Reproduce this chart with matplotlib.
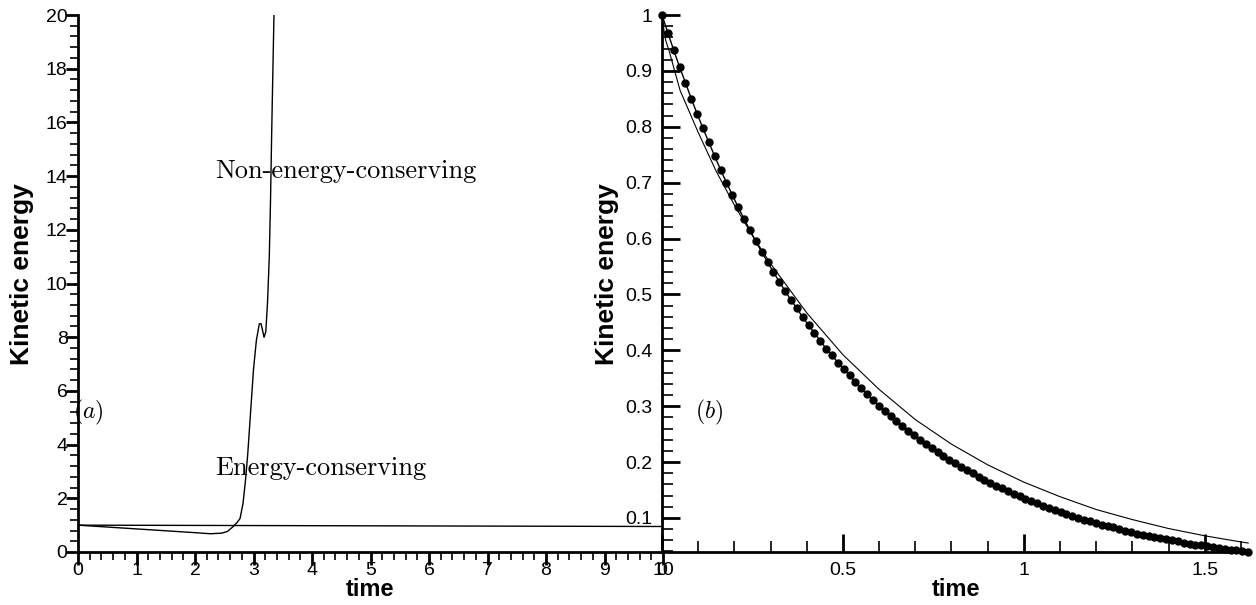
import numpy as np
import matplotlib
matplotlib.use("Agg")
from matplotlib import pyplot as plt
from matplotlib.ticker import MultipleLocator, FormatStrFormatter

plt.rcParams['font.family'] = ['Liberation Sans', 'DejaVu Sans']
plt.rcParams['mathtext.fontset'] = 'cm'

# (a) kinetic energy over long time
t_cons = [0, 2, 4, 6, 8, 10]
ke_cons = [1.0, 0.99, 0.98, 0.97, 0.96, 0.95]

t_noncons = [0, 0.5, 1.0, 1.5, 2.0, 2.26, 2.45, 2.55, 2.65, 2.72, 2.77, 2.82, 2.86,
             2.9, 2.95, 3.0, 3.05, 3.1, 3.13, 3.18, 3.21, 3.24, 3.27, 3.29, 3.31, 3.33, 3.35]
ke_noncons = [1.0, 0.93, 0.86, 0.79, 0.72, 0.68, 0.70, 0.76, 0.94, 1.1, 1.25, 1.8, 2.6,
              3.6, 5.2, 6.8, 7.9, 8.5, 8.5, 8.0, 8.2, 9.3, 11.0, 13.0, 15.5, 17.8, 20.0]

# (b) short-time decay
t_dots = np.linspace(0, 1.62, 101)
ke_dots = [1.000, 0.968, 0.937, 0.907, 0.879, 0.850, 0.823, 0.797, 0.772, 0.747,
           0.723, 0.700, 0.678, 0.656, 0.635, 0.615, 0.595, 0.576, 0.558, 0.540,
           0.523, 0.506, 0.490, 0.475, 0.459, 0.445, 0.431, 0.417, 0.403, 0.391,
           0.378, 0.366, 0.355, 0.343, 0.332, 0.322, 0.311, 0.301, 0.292, 0.283,
           0.274, 0.265, 0.256, 0.248, 0.240, 0.233, 0.225, 0.218, 0.211, 0.204,
           0.198, 0.192, 0.186, 0.180, 0.174, 0.168, 0.163, 0.158, 0.153, 0.148,
           0.143, 0.139, 0.134, 0.130, 0.126, 0.122, 0.118, 0.114, 0.110, 0.107,
           0.104, 0.100, 0.097, 0.094, 0.091, 0.088, 0.085, 0.083, 0.080, 0.077,
           0.075, 0.072, 0.070, 0.068, 0.066, 0.064, 0.062, 0.060, 0.058, 0.056,
           0.054, 0.052, 0.051, 0.049, 0.048, 0.046, 0.045, 0.043, 0.042, 0.040,
           0.039]

t_line = [0, 0.005, 0.01, 0.02, 0.05, 0.1, 0.15, 0.2, 0.25, 0.3, 0.4, 0.5, 0.6,
          0.7, 0.8, 0.9, 1.0, 1.1, 1.2, 1.3, 1.4, 1.5, 1.6, 1.62]
ke_line = [1.0, 0.975, 0.955, 0.935, 0.865, 0.79, 0.72, 0.66, 0.605, 0.555, 0.467,
           0.392, 0.33, 0.276, 0.232, 0.195, 0.164, 0.138, 0.115, 0.097, 0.081,
           0.068, 0.057, 0.055]

W, H = 1256, 605
fig = plt.figure(figsize=(W / 100, H / 100), dpi=100)
ax1 = fig.add_axes([78 / W, 53 / H, 585 / W, 537 / H])
ax2 = fig.add_axes([662 / W, 53 / H, 588 / W, 537 / H])
ax2.set_facecolor('none')


def style_axes(ax, direction, pad):
    for s in ['top', 'right']:
        ax.spines[s].set_visible(False)
    for s in ['left', 'bottom']:
        ax.spines[s].set_linewidth(2)
    ax.tick_params(which='major', direction=direction, length=9, width=2,
                   labelsize=14, pad=pad)
    ax.tick_params(which='minor', direction=direction, length=6, width=1.2)


# Panel (a)
ax1.plot(t_cons, ke_cons, color='black', lw=1)
ax1.plot(t_noncons, ke_noncons, color='black', lw=1)
ax1.set_xlim(0, 10)
ax1.set_ylim(0, 20)
ax1.xaxis.set_major_locator(MultipleLocator(1))
ax1.xaxis.set_minor_locator(MultipleLocator(0.2))
ax1.yaxis.set_major_locator(MultipleLocator(2))
ax1.yaxis.set_minor_locator(MultipleLocator(0.4))
style_axes(ax1, 'out', -1.5)
ax1.set_xlabel('time', fontsize=17, fontweight='bold')
ax1.set_ylabel('Kinetic energy', fontsize=19, fontweight='bold')
ax1.xaxis.set_label_coords(0.5, -0.048)
ax1.yaxis.set_label_coords(-0.075, 0.518)
ax1.text(2.34, 13.93, 'Non-energy-conserving', family='cmr10', fontsize=19,
         va='baseline')
ax1.text(2.34, 2.87, 'Energy-conserving', family='cmr10', fontsize=19,
         va='baseline')
ax1.text(-0.09, 5.2, r'$(a)$', fontsize=17, va='center', clip_on=False)

# Panel (b)
ax2.plot(t_line, ke_line, color='black', lw=0.8)
ax2.plot(t_dots, ke_dots, 'o-', color='black', lw=1, markersize=5, clip_on=False)
ax2.set_xlim(0, 1.625)
ax2.set_ylim(0.039, 1.0)
ax2.xaxis.set_major_locator(MultipleLocator(0.5))
ax2.xaxis.set_minor_locator(MultipleLocator(0.1))
ax2.yaxis.set_major_locator(MultipleLocator(0.1))
ax2.yaxis.set_minor_locator(MultipleLocator(0.02))
ax2.xaxis.set_major_formatter(FormatStrFormatter('%g'))
ax2.yaxis.set_major_formatter(FormatStrFormatter('%g'))
style_axes(ax2, 'in', 7)
ax2.tick_params(which='major', length=13)
ax2.tick_params(which='minor', length=8)
ax2.set_xlabel('time', fontsize=17, fontweight='bold')
ax2.set_ylabel('Kinetic energy', fontsize=19, fontweight='bold')
ax2.xaxis.set_label_coords(0.5, -0.048)
ax2.yaxis.set_label_coords(-0.073, 0.518)
ax2.text(0.091, 0.288, r'$(b)$', fontsize=17, va='center')

fig.savefig('out.png', dpi=100)
